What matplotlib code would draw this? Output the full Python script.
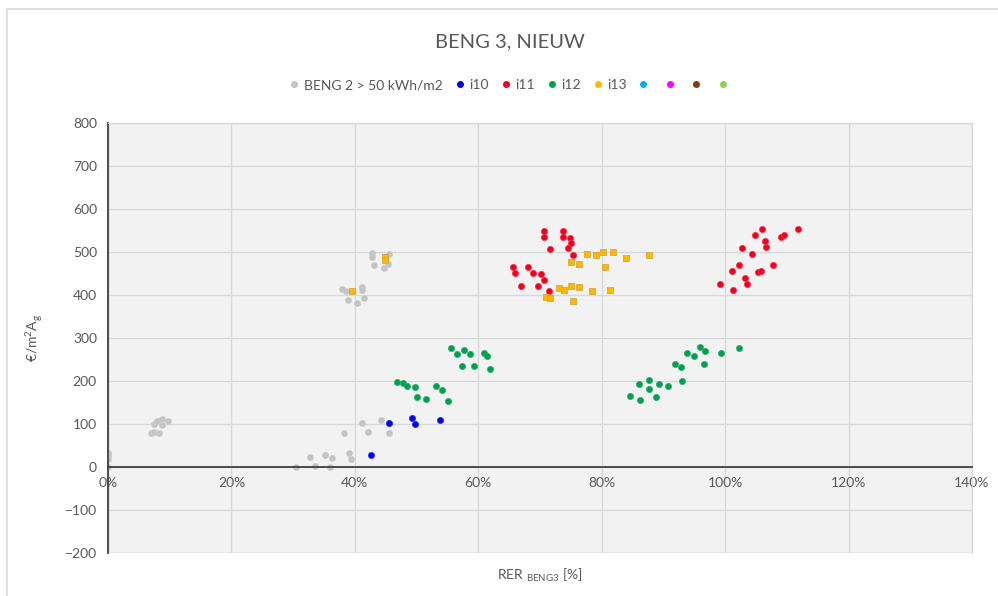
import matplotlib
matplotlib.use("Agg")
import matplotlib.pyplot as plt
from matplotlib.lines import Line2D
from matplotlib.patches import Rectangle

plt.rcParams['font.family'] = ['Lato', 'DejaVu Sans']

# data: RER (%) and cost (EUR/m2 Ag)
beng2_x = [0, 0, 0, 0, 7.4, 7.9, 8.8, 9.8, 8.7, 7.0, 7.5, 8.3,
           30.5, 32.8, 33.6, 35.1, 36.3, 36.0, 38.2, 39.1, 39.4, 41.2, 42.1, 44.2, 45.6,
           37.9, 38.5, 38.9, 40.3, 41.2, 41.2, 41.5, 42.8, 42.8, 43.1, 44.7, 45.4, 45.6]
beng2_y = [32, 25, 18, 0, 100, 106, 111, 106, 98, 79, 81, 79,
           0, 23, 2, 29, 22, 0, 80, 33, 19, 103, 82, 109, 80,
           415, 409, 388, 382, 419, 412, 392, 497, 489, 470, 462, 472, 495]

i10_x = [42.6, 45.6, 49.3, 49.8, 53.8]
i10_y = [29, 103, 113, 99, 109]

i11_x = [70.7, 70.7, 73.8, 73.8, 74.9, 75.1, 71.6, 74.5, 75.4, 65.6, 65.9, 68.1, 68.8,
         70.2, 70.7, 67.0, 69.7, 71.4,
         99.2, 101.3, 101.1, 102.3, 102.8, 103.2, 103.5, 104.3, 104.8, 106.0, 106.4,
         106.7, 105.3, 105.8, 107.8, 109.0, 109.5, 111.8]
i11_y = [549, 536, 549, 536, 532, 522, 506, 509, 493, 466, 452, 466, 452,
         449, 436, 422, 422, 409,
         426, 412, 456, 469, 509, 439, 426, 496, 540, 553, 526,
         512, 453, 456, 469, 536, 540, 553]

i12_x = [46.8, 47.8, 48.4, 49.8, 50.0, 51.5, 53.1, 54.2, 55.1, 55.6, 56.5, 57.7, 58.6,
         57.4, 59.3, 60.9, 61.4, 61.9,
         84.6, 86.0, 86.2, 87.6, 87.6, 88.8, 89.3, 90.7, 91.9, 92.8, 93.0, 93.9,
         94.9, 96.0, 96.7, 96.5, 99.3, 102.3]
i12_y = [198, 196, 189, 187, 163, 159, 189, 179, 153, 276, 262, 272, 262,
         236, 236, 266, 257, 229,
         166, 192, 156, 202, 182, 163, 192, 189, 239, 233, 199, 266,
         259, 279, 269, 239, 266, 276]

i13_x = [39.6, 44.9, 44.9,
         77.6, 79.1, 80.2, 81.9, 83.9, 87.7, 75.1, 76.3, 80.5, 73.0, 73.9, 75.1,
         76.3, 78.4, 81.4, 70.9, 71.6, 75.4]
i13_y = [409, 488, 482,
         496, 492, 499, 499, 485, 492, 476, 473, 466, 416, 412, 422,
         419, 409, 412, 395, 392, 386]

x_ticks = [0, 20, 40, 60, 80, 100, 120, 140]
y_ticks = [-200, -100, 0, 100, 200, 300, 400, 500, 600, 700, 800]

txt = '#595959'
grid_c = '#d9d9d9'

fig = plt.figure(figsize=(9.98, 5.96), dpi=100)
# outer chart border (only left/top are visible in the crop)
fig.patches.append(Rectangle((7 / 998, -0.1), 1.2, 1.1 - 9 / 596, transform=fig.transFigure,
                             fill=False, edgecolor=grid_c, lw=1.2))
ax = fig.add_axes([108 / 998, 1 - 553 / 596, (972 - 108) / 998, (553 - 123) / 596])
ax.set_facecolor('#f2f2f2')

ax.plot(beng2_x, beng2_y, 'o', color='#c4c4c4', mec='#cfcfcf', mew=0.5, ms=4.5)
ax.plot(i10_x, i10_y, 'o', color='#0000ee', mec='#3333ff', mew=0.5, ms=4.5)
ax.plot(i11_x, i11_y, 'o', color='#ee0022', mec='#ff3344', mew=0.5, ms=4.5)
ax.plot(i12_x, i12_y, 'o', color='#00a050', mec='#33b070', mew=0.5, ms=4.5)
ax.plot(i13_x, i13_y, 's', color='#ffb800', mec='#d8a840', mew=0.6, ms=3.8)

ax.set_xlim(0, 140)
ax.set_ylim(-200, 800)
ax.set_xticks(x_ticks)
ax.set_xticklabels([f'{v}%' for v in x_ticks])
ax.set_yticks(y_ticks)
ax.grid(True, color=grid_c, lw=1)
ax.set_axisbelow(True)
ax.tick_params(length=0, labelsize=10, labelcolor=txt, pad=8)
ax.tick_params(axis='x', pad=7)

for s in ['top', 'right']:
    ax.spines[s].set_color(grid_c)
ax.spines['left'].set_color('#404040')
ax.spines['left'].set_linewidth(1.3)
ax.spines['bottom'].set_position(('data', 0))
ax.spines['bottom'].set_color('#404040')
ax.spines['bottom'].set_linewidth(1.3)
ax.add_patch(Rectangle((0, 0), 1, 1, transform=ax.transAxes, fill=False,
                       edgecolor=grid_c, lw=1, zorder=0.5))

ax.set_ylabel('€/m$^{\\mathregular{2}}$A$_{\\mathregular{g}}$', fontsize=10, color=txt, labelpad=14)
ax.set_xlabel('RER $_{\\mathregular{BENG3}}$ [%]', fontsize=10, color=txt)
ax.xaxis.set_label_coords(0.5, -0.032)

fig.text(0.511, 1 - 42 / 596, 'BENG 3, NIEUW', ha='center', va='center', fontsize=14.5, color=txt)

leg_colors = ['#c4c4c4', '#0000ee', '#ee0022', '#00a050', '#ffb800',
              '#00b0f0', '#ff00ff', '#843c0c', '#92d050']
leg_labels = ['BENG 2 > 50 kWh/m2', 'i10', 'i11', 'i12', 'i13', '', '', '', '']
handles = [Line2D([], [], ls='', marker='o', color=c, ms=4) for c in leg_colors]
fig.legend(handles, leg_labels, loc='center', bbox_to_anchor=(0.512, 1 - 85 / 596), ncol=9,
           frameon=False, fontsize=10, labelcolor=txt, handlelength=0.7, handletextpad=0.35,
           columnspacing=0.85, borderpad=0)

fig.savefig('out.png', dpi=100)
